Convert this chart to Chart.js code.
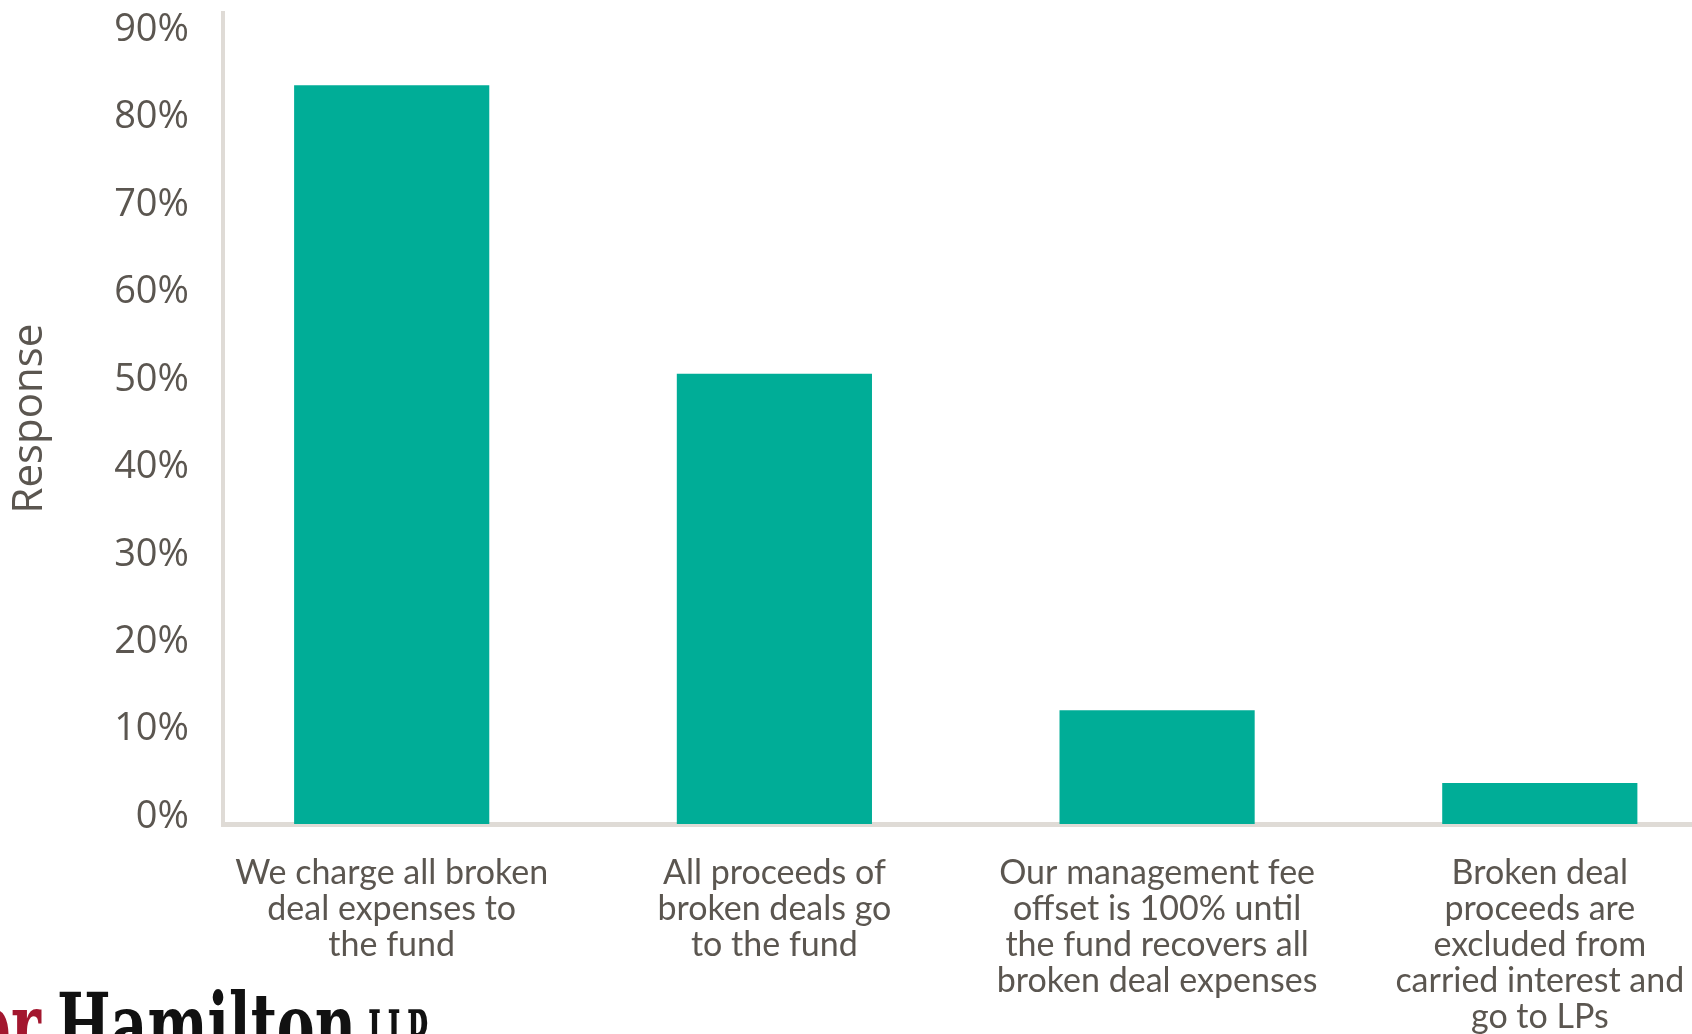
<!DOCTYPE html>
<html>
<head>
<meta charset="utf-8">
<title>Broken deal expenses</title>
<script src="https://cdn.jsdelivr.net/npm/chart.js@4.4.1/dist/chart.umd.min.js"></script>
<style>
  html, body { margin: 0; padding: 0; background: #fff; overflow: hidden; }
  #wrap { width: 1692px; height: 1034px; position: relative; }
</style>
</head>
<body>
<div id="wrap"><canvas id="brokenDealChart" width="1692" height="1034"></canvas></div>
<script>
// survey answers (multi-line category labels)
const categories = [
    ['We charge all broken', 'deal expenses to', 'the fund'],
    ['All proceeds of', 'broken deals go', 'to the fund'],
    ['Our management fee', 'offset is 100% until', 'the fund recovers all', 'broken deal expenses'],
    ['Broken deal', 'proceeds are', 'excluded from', 'carried interest and', 'go to LPs']
];
// share of respondents, percent
const responses = [84.5, 51.5, 13.0, 4.7];
const yTicks = [0, 10, 20, 30, 40, 50, 60, 70, 80, 90];

const textColor = '#5b5650';
const axisColor = '#dfdbd6';

// firm name running off the bottom edge, letterhead style
const logoPlugin = {
    id: 'logo',
    afterDraw(chart) {
        const c = chart.ctx;
        c.save();
        c.textBaseline = 'alphabetic';
        c.font = 'bold 60px "DejaVu Serif"';
        const hw = c.measureText('Hamilton').width;
        c.translate(57, 1056);
        c.scale(299 / hw, 1.45);
        c.fillStyle = '#111';
        c.fillText('Hamilton', 0, 0);
        c.fillStyle = '#a3172f';
        c.textAlign = 'right';
        c.fillText('Pepper', -16 * hw / 299, 0);
        c.restore();

        c.save();
        c.font = 'bold 44px "DejaVu Serif"';
        const lw = c.measureText('LLP').width;
        c.translate(368, 1056);
        c.scale(60 / lw, 1.45);
        c.fillStyle = '#111';
        c.fillText('LLP', 0, 0);
        c.restore();
    }
};

const ctx = document.getElementById('brokenDealChart').getContext('2d');
new Chart(ctx, {
    type: 'bar',
    data: {
        datasets: [{
            label: 'Response',
            data: responses.map((v, i) => ({ x: i, y: v })),
            backgroundColor: '#00ad97',
            borderWidth: 0,
            barPercentage: 1,
            categoryPercentage: 0.51
        }]
    },
    options: {
        responsive: false,
        animation: false,
        layout: { padding: { top: 13, right: 0, bottom: 0, left: 0 } },
        plugins: {
            legend: { display: false },
            tooltip: { enabled: false }
        },
        scales: {
            x: {
                type: 'linear',
                offset: false,
                // category slots start left of the value axis and run past the right edge
                min: -0.4408,
                max: 3.3977,
                grid: { display: false, drawTicks: false },
                border: { display: true, color: axisColor, width: 5 },
                afterBuildTicks: axis => {
                    axis.ticks = categories.map((_, i) => ({ value: i }));
                },
                afterFit: axis => {
                    axis.height = 210;
                    axis.paddingLeft = 0;
                    axis.paddingRight = 0;
                },
                ticks: {
                    autoSkip: false,
                    maxRotation: 0,
                    minRotation: 0,
                    padding: 31,
                    color: textColor,
                    font: { family: 'Lato', size: 34, lineHeight: 1.06 },
                    callback: value => categories[value]
                }
            },
            y: {
                min: 0,
                max: 92.75,
                afterBuildTicks: axis => {
                    axis.ticks = yTicks.map(v => ({ value: v }));
                },
                afterFit: axis => {
                    axis.width = 223;
                    axis.paddingTop = 0;
                    axis.paddingBottom = 0;
                },
                grid: { display: false, drawTicks: false },
                border: { display: true, color: axisColor, width: 4 },
                ticks: {
                    padding: 34,
                    labelOffset: -7,
                    color: textColor,
                    font: { family: 'Open Sans', size: 38 },
                    callback: value => value + '%'
                },
                title: {
                    display: true,
                    text: 'Response',
                    color: textColor,
                    font: { family: 'Open Sans', size: 42 },
                    padding: { top: 5, bottom: 0 }
                }
            }
        }
    },
    plugins: [logoPlugin]
});
</script>
</body>
</html>
